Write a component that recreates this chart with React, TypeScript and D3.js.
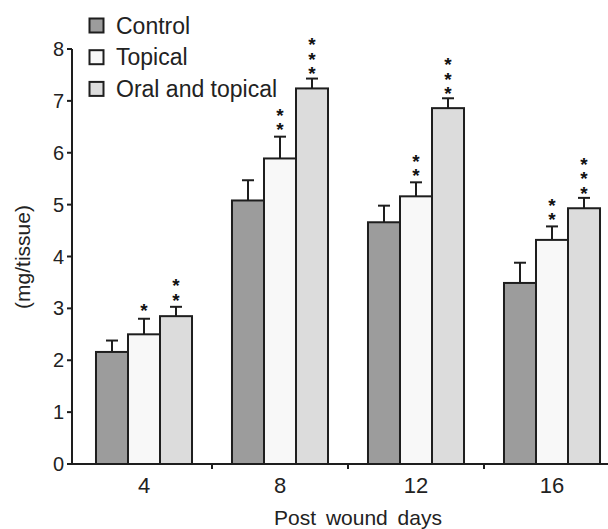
import React from "react";
import * as d3 from "d3";

const categories = ["4", "8", "12", "16"];
const seriesNames = ["Control", "Topical", "Oral and topical"];
const controlValues = [2.16, 5.08, 4.66, 3.49];
const controlErrors = [0.22, 0.39, 0.32, 0.39];
const topicalValues = [2.5, 5.89, 5.16, 4.32];
const topicalErrors = [0.3, 0.42, 0.27, 0.26];
const oralValues = [2.85, 7.24, 6.86, 4.93];
const oralErrors = [0.18, 0.19, 0.19, 0.2];
const controlStars = [0, 0, 0, 0];
const topicalStars = [1, 2, 2, 2];
const oralStars = [2, 3, 3, 3];
const yTicks = [0, 1, 2, 3, 4, 5, 6, 7, 8];
const xTitle = "Post wound days";
const yTitle = "(mg/tissue)";

const W = 608;
const H = 529;
const FONT = "'Liberation Sans', Arial, sans-serif";
const fills = ["#9c9c9c", "#f8f8f8", "#dcdcdc"];
const STROKE = "#1e1e1e";
const STAR_FS = 19;
const STAR_GAP = 12.5;

export default function App() {
  const y = d3.scaleLinear().domain([0, 8]).range([464, 49]);
  const x = d3
    .scaleBand<string>()
    .domain(categories)
    .range([76, 620])
    .paddingInner(0.294)
    .paddingOuter(0.147);
  const xs = d3.scaleBand<string>().domain(seriesNames).range([0, x.bandwidth()]);

  const values = [controlValues, topicalValues, oralValues];
  const errors = [controlErrors, topicalErrors, oralErrors];
  const stars = [controlStars, topicalStars, oralStars];

  const boundaries = categories.slice(1).map((c) => (x(c) as number) - (x.step() - x.bandwidth()) / 2);

  return (
    <svg
      width={W}
      height={H}
      style={{ position: "absolute", left: 0, top: 0, background: "#fff" }}
      fontFamily={FONT}
    >
      <rect x={0} y={0} width={W} height={H} fill="#fff" />
      {/* bars */}
      {categories.map((c, ci) =>
        seriesNames.map((s, si) => {
          const v = values[si][ci];
          const e = errors[si][ci];
          const bx = (x(c) as number) + (xs(s) as number);
          const bw = xs.bandwidth();
          const cx = bx + bw / 2;
          const top = y(v);
          const cap = y(v + e);
          const n = stars[si][ci];
          return (
            <g key={c + s}>
              <line x1={cx} x2={cx} y1={top} y2={cap} stroke={STROKE} strokeWidth={2} />
              <line x1={cx - 6} x2={cx + 6} y1={cap} y2={cap} stroke={STROKE} strokeWidth={2} />
              <rect x={bx} y={top} width={bw} height={y(0) - top} fill={fills[si]} stroke={STROKE} strokeWidth={2} />
              {n > 0 && (
                <text
                  x={cx}
                  y={cap - 13 - (n - 1) * STAR_GAP - STAR_GAP / 2}
                  fontSize={STAR_FS}
                  fontWeight="bold"
                  fill="#111"
                  style={{
                    writingMode: "vertical-rl",
                    textOrientation: "upright",
                    letterSpacing: `${STAR_GAP - STAR_FS}px`,
                  } as React.CSSProperties}
                >
                  {"*".repeat(n)}
                </text>
              )}
            </g>
          );
        })
      )}
      {/* y axis */}
      <line x1={72} x2={72} y1={y(8)} y2={y(0)} stroke={STROKE} strokeWidth={2} />
      {yTicks.map((t) => (
        <g key={t}>
          <line x1={67} x2={72} y1={y(t)} y2={y(t)} stroke={STROKE} strokeWidth={2} />
          <text x={64} y={y(t) + 7} textAnchor="end" fontSize={20} fill="#222">
            {t}
          </text>
        </g>
      ))}
      {/* x axis */}
      <line x1={67} x2={W} y1={y(0)} y2={y(0)} stroke={STROKE} strokeWidth={2} />
      {boundaries.map((b, i) => (
        <line key={i} x1={b} x2={b} y1={y(0)} y2={y(0) + 5} stroke={STROKE} strokeWidth={2} />
      ))}
      {categories.map((c) => (
        <text
          key={c}
          x={(x(c) as number) + x.bandwidth() / 2}
          y={493}
          textAnchor="middle"
          fontSize={22}
          fill="#222"
        >
          {c}
        </text>
      ))}
      <text x={358} y={525} textAnchor="middle" fontSize={21} fill="#222" style={{ wordSpacing: "4px" }}>
        {xTitle}
      </text>
      <text
        transform={`translate(30,257) rotate(-90)`}
        textAnchor="middle"
        fontSize={21}
        fill="#222"
      >
        {yTitle}
      </text>
      {/* legend */}
      {seriesNames.map((s, i) => {
        const cy = 25.5 + i * 31.7;
        return (
          <g key={s}>
            <rect x={89.5} y={cy - 7} width={14} height={14} fill={fills[i]} stroke={STROKE} strokeWidth={2} />
            <text x={116} y={cy + 8} fontSize={23} fill="#222">
              {s}
            </text>
          </g>
        );
      })}
    </svg>
  );
}
